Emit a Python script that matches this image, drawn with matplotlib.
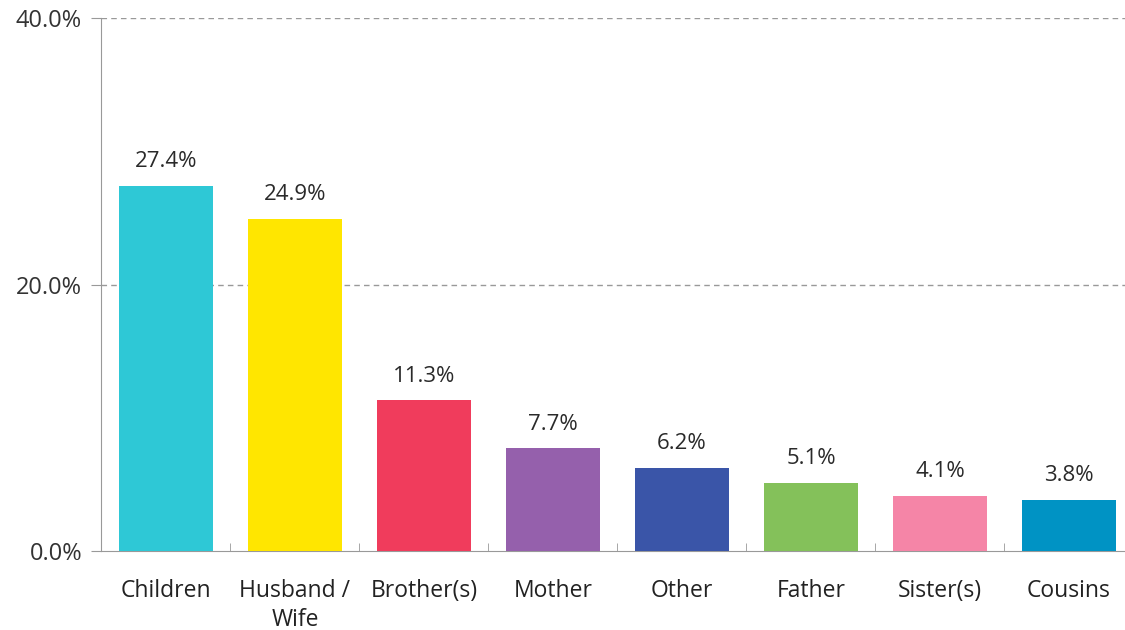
import matplotlib.pyplot as plt
import numpy as np

categories = ["Children", "Husband /\nWife", "Brother(s)", "Mother", "Other",
              "Father", "Sister(s)", "Cousins"]
values = [27.4, 24.9, 11.3, 7.7, 6.2, 5.1, 4.1, 3.8]
colors = ["#2ec8d6", "#ffe600", "#f03c5c", "#9560ac", "#3a55a8",
          "#84c15a", "#f585a7", "#0093c4"]
yticks = [0, 20, 40]

plt.rcParams['font.family'] = ['Open Sans', 'DejaVu Sans']

fig = plt.figure(figsize=(11.25, 6.3), dpi=100)
ax = fig.add_axes([0.0902, 0.1254, 0.9173, 0.846])

x = np.arange(len(categories))
ax.bar(x, values, width=0.73, color=colors, zorder=3)

for xi, v in zip(x, values):
    ax.annotate(f"{v:.1f}%", (xi, v), xytext=(0, 10), textcoords="offset points",
                ha="center", va="bottom", fontsize=16, color="#2a2a2a")

ax.set_xlim(-0.5, len(categories) - 0.5)
ax.set_ylim(0, 40)
ax.set_yticks(yticks)
ax.set_yticklabels([f"{t:.1f}%" for t in yticks], fontsize=17, color="#333333")
for t in yticks[1:]:
    ax.axhline(t, color="#999999", lw=1, ls=(0, (4, 3)), zorder=1)

ax.set_xticks(x)
ax.set_xticklabels(categories, fontsize=16.5, color="#222222", linespacing=1.3)
ax.tick_params(axis="x", length=0, pad=20)
ax.set_xticks(np.arange(len(categories) + 1) - 0.5, minor=True)
ax.tick_params(axis="x", which="minor", direction="in", length=6, color="#999999")
ax.tick_params(axis="y", length=7, color="#999999", pad=7)

for s in ["top", "right"]:
    ax.spines[s].set_visible(False)
for s in ["left", "bottom"]:
    ax.spines[s].set_color("#999999")

fig.savefig("out.png", dpi=100)
